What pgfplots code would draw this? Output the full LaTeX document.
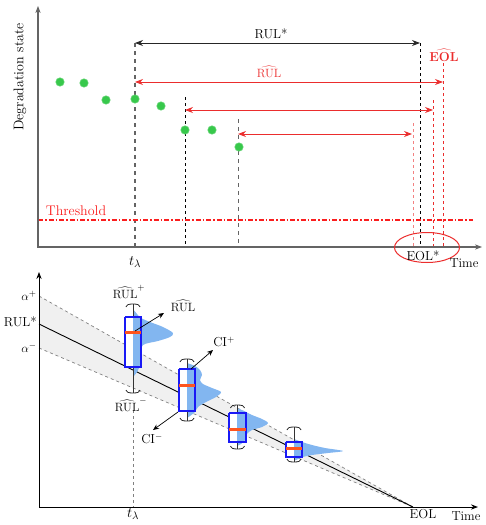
\documentclass[border=0pt]{standalone}
\usepackage{pgfplots}
\pgfplotsset{compat=1.18}
\usetikzlibrary{arrows.meta}
\definecolor{axgray}{RGB}{100,100,100}
\definecolor{arrred}{RGB}{235,45,45}
\definecolor{thrred}{RGB}{250,30,30}
\definecolor{ptgreen}{RGB}{55,200,75}
\definecolor{bandgray}{RGB}{240,240,240}
\definecolor{distblue}{RGB}{130,182,240}
\definecolor{boxblue}{RGB}{25,25,245}
\definecolor{medorange}{RGB}{255,85,30}
\begin{document}
\begin{tikzpicture}[lbl/.style={font=\fontsize{13}{15}\selectfont, inner sep=0pt}]
\begin{axis}[width=485pt,height=525pt,scale only axis,xmin=0,xmax=485,ymin=0,ymax=525,
  y dir=reverse,hide axis,clip=false]
% ---------------- top panel ----------------
\addplot[axgray, dash pattern=on 4pt off 4pt, line width=1.1pt] coordinates {(135,43)(135,247)};
\addplot[black, dashed, line width=0.8pt] coordinates {(185,97)(185,247)};
\addplot[axgray, dash pattern=on 4pt off 4pt, line width=1pt] coordinates {(238,119)(238,247)};
\addplot[black, dashed, line width=0.8pt] coordinates {(420,43)(420,247)};
\addplot[arrred, dashed, line width=0.8pt] coordinates {(443,63)(443,247)};
\addplot[arrred, dashed, line width=0.8pt] coordinates {(433,100)(433,247)};
\addplot[arrred!60, dashed, line width=0.9pt] coordinates {(413,123)(413,247)};
\addplot[color=thrred, dash pattern=on 5pt off 2pt on 1.5pt off 2pt, line width=1.3pt] coordinates {(38,220)(473,220)};
\addplot[axgray, line width=1.3pt, {Stealth[length=7pt]}-{Stealth[length=7pt]}] coordinates {(38,6)(38,247)(482,247)};
\addplot[black!85, line width=0.9pt, {Stealth[length=8pt,width=6pt]}-{Stealth[length=8pt,width=6pt]}] coordinates {(135,43)(420,43)};
\addplot[arrred, line width=0.9pt, {Stealth[length=8pt,width=6pt]}-{Stealth[length=8pt,width=6pt]}] coordinates {(135,82)(443,82)};
\addplot[arrred, line width=0.9pt, {Stealth[length=8pt,width=6pt]}-{Stealth[length=8pt,width=6pt]}] coordinates {(185,110)(433,110)};
\addplot[arrred, line width=0.9pt, {Stealth[length=8pt,width=6pt]}-{Stealth[length=8pt,width=6pt]}] coordinates {(238,134)(412,134)};
\addplot[only marks, mark=*, mark size=4.2pt, mark options={fill=ptgreen, draw=ptgreen!80!white, line width=0.6pt}] coordinates {
 (60,82)(84,83)(106,100)(135,99)(161,106)(185,130)(212,130)(239,147)};
\draw[arrred, line width=1pt] (axis cs:427,247.5) ellipse [x radius=32.5pt, y radius=15pt];
\node[lbl, rotate=90] at (axis cs:20,77) {\fontsize{14}{16}\selectfont Degradation state};
\node[lbl] at (axis cs:271,34) {RUL*};
\node[lbl, text=arrred] at (axis cs:269,72) {$\widehat{\mathrm{RUL}}$};
\node[lbl, text=arrred] at (axis cs:444,55) {$\widehat{\textbf{EOL}}$};
\node[lbl, text=thrred] at (axis cs:76,211) {\fontsize{14}{16}\selectfont Threshold};
\node[lbl] at (axis cs:135,262) {\fontsize{15}{17}\selectfont $t_\lambda$};
\node[lbl] at (axis cs:423,256) {EOL*};
\node[lbl] at (axis cs:464,263) {Time};
% ---------------- bottom panel ----------------
\addplot[fill=bandgray, draw=none] coordinates {(39,296)(413,507)(39,348)};
\addplot[gray, dashed, line width=0.7pt] coordinates {(39,296)(413,507)};
\addplot[gray, dashed, line width=0.7pt] coordinates {(39,348)(413,507)};
\addplot[black, line width=0.9pt] coordinates {(39,324)(413,507)};
\addplot[gray, dashed, line width=0.7pt] coordinates {(133,410)(133,507)};
\addplot[black, line width=1pt, {Stealth[length=7pt]}-{Stealth[length=7pt]}] coordinates {(39,272)(39,507)(478,507)};
% box fills
\addplot[fill=white, draw=none] coordinates {(125,317)(141,317)(141,367)(125,367)};
\addplot[fill=white, draw=none] coordinates {(179,369)(195,369)(195,411)(179,411)};
\addplot[fill=white, draw=none] coordinates {(229,413)(246,413)(246,442)(229,442)};
\addplot[fill=white, draw=none] coordinates {(286,442)(302,442)(302,457)(286,457)};
% distributions
\addplot[fill=distblue, draw=none, smooth, tension=0.5] coordinates {(133,309)(137,314)(141,318)(150,322)(163,327)(173,333)(170,337)(158,341)(143,345)(141,355)(140,365)(137,372)(133,377)};
\addplot[fill=distblue, draw=none, smooth, tension=0.5] coordinates {(187,363)(195,366)(200,370)(202,375)(200,380)(203,384)(212,388)(221,392)(216,397)(206,402)(198,407)(195,412)(190,416)(187,418)};
\addplot[fill=distblue, draw=none, smooth, tension=0.5] coordinates {(237,408)(244,411)(252,415)(262,419)(268,423)(262,427)(252,430)(247,434)(245,440)(241,444)(237,446)};
\addplot[fill=distblue, draw=none, smooth, tension=0.5] coordinates {(294,439)(302,442)(312,445)(325,448)(343,451)(328,453)(312,455)(303,457)(298,459)(294,461)};
% whiskers
\addplot[black!80, line width=0.9pt] coordinates {(133,304)(133,317)};
\addplot[black!80, line width=0.9pt] coordinates {(133,367)(133,393)};
\addplot[black!80, line width=0.9pt] coordinates {(187,359)(187,369)};
\addplot[black!80, line width=0.9pt] coordinates {(187,411)(187,421)};
\addplot[black!80, line width=0.9pt] coordinates {(237.5,405)(237.5,413)};
\addplot[black!80, line width=0.9pt] coordinates {(237.5,442)(237.5,449)};
\addplot[black!80, line width=0.9pt] coordinates {(294,427)(294,442)};
\addplot[black!80, line width=0.9pt] coordinates {(294,457)(294,462)};
% caps
\addplot[black!85, line width=0.8pt, smooth] coordinates {(126,307)(128,304.6)(133,304)(138,304.6)(140,307)};
\addplot[black!85, line width=0.8pt, smooth] coordinates {(126,390)(128,392.4)(133,393)(138,392.4)(140,390)};
\addplot[black!85, line width=0.8pt, smooth] coordinates {(180,362)(182,359.6)(187,359)(192,359.6)(194,362)};
\addplot[black!85, line width=0.8pt, smooth] coordinates {(180,418)(182,420.4)(187,421)(192,420.4)(194,418)};
\addplot[black!85, line width=0.8pt, smooth] coordinates {(230.5,408)(232.5,405.6)(237.5,405)(242.5,405.6)(244.5,408)};
\addplot[black!85, line width=0.8pt, smooth] coordinates {(230.5,446)(232.5,448.4)(237.5,449)(242.5,448.4)(244.5,446)};
\addplot[black!85, line width=0.8pt, smooth] coordinates {(287,430)(289,427.6)(294,427)(299,427.6)(301,430)};
\addplot[black!85, line width=0.8pt, smooth] coordinates {(287,459)(289,461.4)(294,462)(299,461.4)(301,459)};
% box outlines
\addplot[boxblue, line width=1.2pt] coordinates {(125,317)(141,317)(141,367)(125,367)(125,317)};
\addplot[boxblue, line width=1.2pt] coordinates {(179,369)(195,369)(195,411)(179,411)(179,369)};
\addplot[boxblue, line width=1.2pt] coordinates {(229,413)(246,413)(246,442)(229,442)(229,413)};
\addplot[boxblue, line width=1.2pt] coordinates {(286,442)(302,442)(302,457)(286,457)(286,442)};
% medians
\addplot[medorange, line width=3pt] coordinates {(125,332)(141,332)};
\addplot[medorange, line width=3pt] coordinates {(179,385)(195,385)};
\addplot[medorange, line width=3pt] coordinates {(229,429)(246,429)};
\addplot[medorange, line width=3pt] coordinates {(286,448)(302,448)};
% annotation arrows
\addplot[black, line width=0.7pt, -{Stealth[length=6pt,width=5pt]}] coordinates {(135,331)(164,313)};
\addplot[black, line width=0.7pt, -{Stealth[length=6pt,width=5pt]}] coordinates {(191,369)(213,350)};
\addplot[black, line width=0.7pt, -{Stealth[length=6pt,width=5pt]}] coordinates {(178,412)(153,430)};
% labels
\node[lbl] at (axis cs:29,296) {$\alpha^{+}$};
\node[lbl, anchor=east] at (axis cs:37,322) {RUL*};
\node[lbl] at (axis cs:29,348) {$\alpha^{-}$};
\node[lbl] at (axis cs:129,292) {$\widehat{\mathrm{RUL}}^{+}$};
\node[lbl] at (axis cs:183,306) {$\widehat{\mathrm{RUL}}$};
\node[lbl] at (axis cs:131,405) {$\widehat{\mathrm{RUL}}^{-}$};
\node[lbl] at (axis cs:224,342) {CI$^{+}$};
\node[lbl] at (axis cs:152,439) {CI$^{-}$};
\node[lbl] at (axis cs:133,514) {\fontsize{15}{17}\selectfont $t_\lambda$};
\node[lbl] at (axis cs:423,514) {EOL};
\node[lbl] at (axis cs:466,516) {Time};
\end{axis}
\path (current axis.south west) rectangle (current axis.north east);
\end{tikzpicture}
\end{document}
